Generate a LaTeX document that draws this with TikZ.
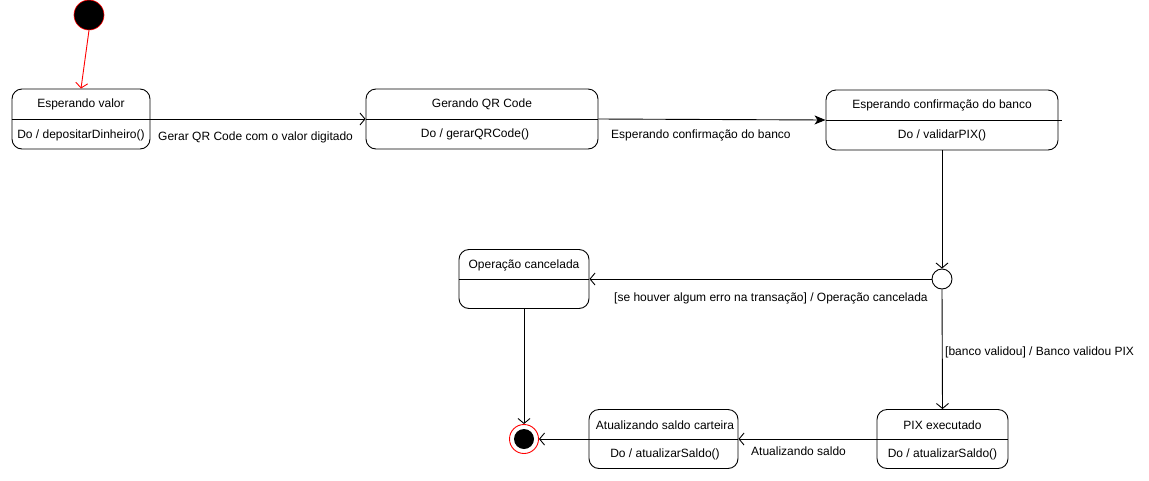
\documentclass[tikz,border=0pt]{standalone}
\usepackage{fontspec}
\setmainfont{Liberation Sans}
\usetikzlibrary{arrows.meta}
\begin{document}
\begin{tikzpicture}[x=1pt,y=-1pt,
  every node/.style={font=\fontsize{12}{14}\selectfont, inner sep=0pt},
  statebox/.style={draw, rounded corners=10pt, line width=0.9pt},
  txt/.style={anchor=center},
  lbl/.style={anchor=west},
  conn/.style={line width=0.9pt, -{Straight Barb[length=5pt,width=12pt,line width=0.9pt]}},
  fconn/.style={line width=0.9pt, -{Stealth[length=11pt,width=9pt,inset=3pt]}},
  divider/.style={line width=0.9pt}
]
\useasboundingbox (0,0) rectangle (1149,480);

% initial state
\node[circle, fill=black, draw=red, line width=0.6pt, minimum size=30pt] (init) at (89,15) {};

% boxes
\node[statebox, minimum width=138pt, minimum height=60pt] (b1) at (81,119) {};
\node[statebox, minimum width=232pt, minimum height=60pt] (b2) at (482,119) {};
\node[statebox, minimum width=232pt, minimum height=60pt] (b3) at (942,120) {};
\node[statebox, minimum width=130pt, minimum height=59pt] (b4) at (524,279) {};
\node[statebox, minimum width=131pt, minimum height=59pt] (b5) at (942.5,439) {};
\node[statebox, minimum width=149pt, minimum height=59pt] (b6) at (663.5,439) {};

% dividers
\draw[divider] (b1.west) -- (b1.east);
\draw[divider] (b2.west) -- (b2.east);
\coordinate (b3ext) at (1062,120);
\draw[divider] (b3.west) -- (b3ext);
\draw[divider] (b4.west) -- (b4.east);
\draw[divider] (b5.west) -- (b5.east);
\draw[divider] (b6.west) -- (b6.east);

% texts
\node[txt] (t1) at (81,104) {Esperando valor};
\node[txt] (d1) at (81,135) {Do / depositarDinheiro()};
\node[txt] (t2) at (482,104) {Gerando QR Code};
\node[txt] (d2) at (475,134) {Do / gerarQRCode()};
\node[txt] (t3) at (942,105) {Esperando confirmação do banco};
\node[txt] (d3) at (942,135) {Do / validarPIX()};
\node[txt] (t4) at (524,265) {Operação cancelada};
\node[txt] (t5) at (942.5,425) {PIX executado};
\node[txt] (d5) at (942.5,454) {Do / atualizarSaldo()};
\node[txt] (t6) at (665,425) {Atualizando saldo carteira};
\node[txt] (d6) at (665,454) {Do / atualizarSaldo()};

% choice and final
\node[circle, draw, line width=0.9pt, minimum size=20pt] (choice) at (942,279) {};
\node[circle, draw=red, line width=0.9pt, minimum size=29pt] (final) at (524,439) {};
\node[circle, fill=black, minimum size=20pt] (finalin) at (524,439) {};

% connectors
\draw[conn, red] (init.south) -- (b1.north);
\draw[conn] (b1.east) -- (b2.west);
\draw[fconn] (b2.east) -- (b3.west);
\draw[conn] (b3.south) -- (choice.north);
\draw[conn] (choice.west) -- (b4.east);
\draw[conn] (choice.south) -- (b5.north);
\draw[conn] (b4.south) -- (final.north);
\draw[conn] (b5.west) -- (b6.east);
\draw[conn] (b6.west) -- (final.east);

% labels
\node[lbl] (l1) at (158,137) {Gerar QR Code com o valor digitado};
\node[lbl] (l2) at (611,135) {Esperando confirmação do banco};
\node[lbl] (l3) at (614,298) {[se houver algum erro na transação] / Operação cancelada};
\node[lbl] (l4) at (945,352) {[banco validou] / Banco validou PIX};
\node[lbl] (l5) at (751,451) {Atualizando saldo};
\end{tikzpicture}
\end{document}
